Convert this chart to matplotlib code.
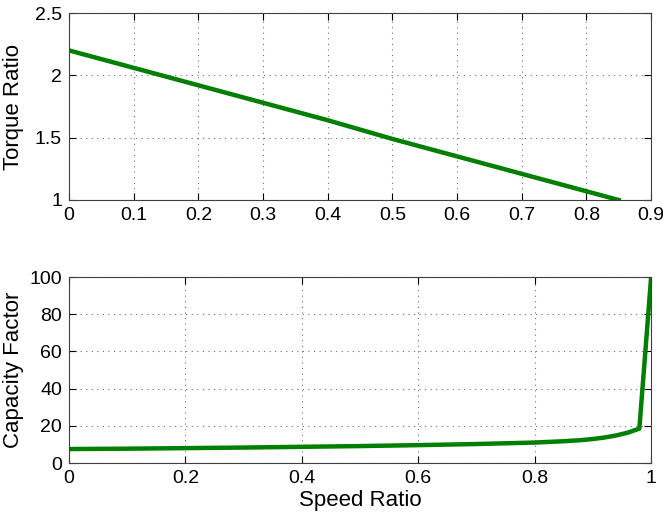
import matplotlib
matplotlib.use("Agg")
import matplotlib.pyplot as plt

# torque ratio vs speed ratio
sr_torque = [0.0, 0.1, 0.2, 0.3, 0.4, 0.5, 0.6, 0.7, 0.8, 0.85]
torque_ratio = [2.2, 2.06, 1.92, 1.78, 1.64, 1.49, 1.35, 1.21, 1.07, 1.0]

# capacity factor vs speed ratio
sr_cap = [0.0, 0.1, 0.2, 0.3, 0.4, 0.5, 0.6, 0.7, 0.8, 0.85, 0.88,
          0.9, 0.92, 0.94, 0.96, 0.98, 1.0]
capacity = [7.5, 7.7, 8.0, 8.3, 8.7, 9.1, 9.6, 10.2, 11.0, 11.7, 12.3,
            12.9, 13.7, 14.8, 16.3, 18.5, 99.0]

green = "#007f00"
plt.rcParams["font.family"] = ["Liberation Sans", "DejaVu Sans"]

fig = plt.figure(figsize=(6.63, 5.19), dpi=100)
ax1 = fig.add_axes([69/663, 1-200/519, 582/663, 187/519])
ax2 = fig.add_axes([69/663, 1-463/519, 582/663, 186/519])

def style(ax):
    ax.grid(True, linestyle=(0, (1, 4)), color="#707070", linewidth=0.8)
    ax.tick_params(direction="in", top=True, right=True, labelsize=14,
                   length=5, pad=5)
    for s in ax.spines.values():
        s.set_color("#404040")
    ax.set_axisbelow(True)

ax1.plot(sr_torque, torque_ratio, color=green, linewidth=3.2)
ax1.set_xlim(0, 0.9)
ax1.set_ylim(1, 2.5)
ax1.set_xticks([0, 0.1, 0.2, 0.3, 0.4, 0.5, 0.6, 0.7, 0.8, 0.9])
ax1.set_xticklabels(["0", "0.1", "0.2", "0.3", "0.4", "0.5", "0.6", "0.7", "0.8", "0.9"])
ax1.set_yticks([1, 1.5, 2, 2.5])
ax1.set_yticklabels(["1", "1.5", "2", "2.5"])
ax1.set_ylabel("Torque Ratio", fontsize=16, labelpad=8)
style(ax1)

ax2.plot(sr_cap, capacity, color=green, linewidth=3.2)
ax2.set_xlim(0, 1)
ax2.set_ylim(0, 100)
ax2.set_xticks([0, 0.2, 0.4, 0.6, 0.8, 1])
ax2.set_xticklabels(["0", "0.2", "0.4", "0.6", "0.8", "1"])
ax2.set_yticks([0, 20, 40, 60, 80, 100])
ax2.set_ylabel("Capacity Factor", fontsize=16, labelpad=4)
ax2.set_xlabel("Speed Ratio", fontsize=16, labelpad=2)
style(ax2)

fig.savefig("out.png", dpi=100)
